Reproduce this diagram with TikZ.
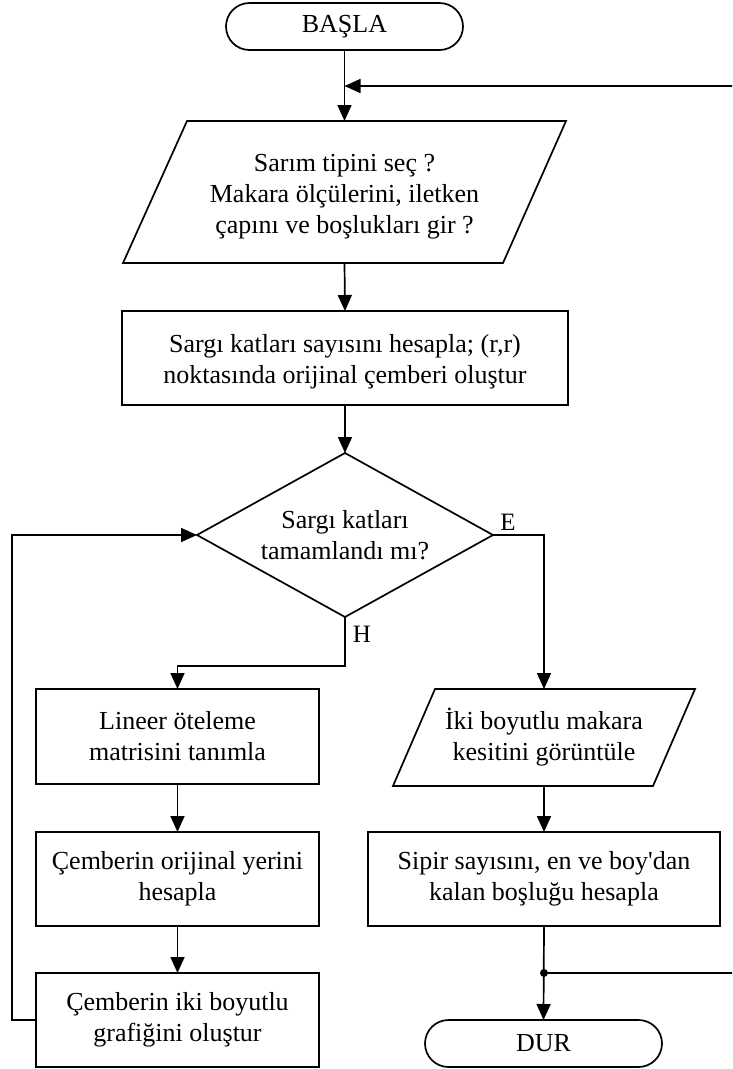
\documentclass[tikz,border=0pt]{standalone}
\usepackage{fontspec}
\setmainfont{Liberation Serif}
\usetikzlibrary{arrows.meta,calc}
\newcommand{\topstrut}{\rule{0pt}{26pt}}
\begin{document}
\begin{tikzpicture}[x=1pt,y=-1pt,
  font=\fontsize{26}{31}\selectfont,
  line width=1.7pt,
  every node/.style={inner sep=0pt, outer sep=0pt, align=center},
  term/.style={draw, rounded corners=23.5pt, minimum width=237pt, minimum height=47pt},
  procbox/.style={draw, minimum height=94pt},
  iobox/.style={minimum height=#1},
  conn/.style={-{Triangle[length=16pt,width=14pt]}},
  lbl/.style={font=\fontsize{25}{25}\selectfont}
]
\useasboundingbox (0,0) rectangle (732,1069);
\clip (0,0) rectangle (732,1069);

% nodes
\node[term] (start) at (344.5,26.5) {BAŞLA};
\node[iobox=142pt, minimum width=443pt] (in1) at (344.5,192) {\topstrut Sarım tipini seç ?\\Makara ölçülerini, iletken\\çapını ve boşlukları gir ?};
\node[procbox, minimum width=446pt] (proc1) at (345,358) {\topstrut Sargı katları sayısını hesapla; (r,r)\\noktasında orijinal çemberi oluştur};
\node[minimum width=296pt, minimum height=164pt] (dec) at (345,535) {Sargı katları\\tamamlandı mı?};
\node[procbox, minimum width=283pt, minimum height=95pt] (pl1) at (177.5,736.5) {Lineer öteleme\\matrisini tanımla};
\node[procbox, minimum width=283pt] (pl2) at (177.5,879) {Çemberin orijinal yerini\\hesapla};
\node[procbox, minimum width=283pt] (pl3) at (177.5,1020) {Çemberin iki boyutlu\\grafiğini oluştur};
\node[iobox=97pt, minimum width=302pt] (in2) at (544,737.5) {İki boyutlu makara\\kesitini görüntüle};
\node[procbox, minimum width=352pt] (pr) at (544,879) {Sipir sayısını, en ve boy\textquotesingle dan\\kalan boşluğu hesapla};
\node[term] (stop) at (543.5,1043.5) {DUR};
\node[lbl] (labE) at (508,522) {E};
\node[lbl] (labH) at (362,634) {H};

% shapes drawn around invisible nodes
\draw ($(in1.north west)+(64,0)$) -- (in1.north east) -- ($(in1.south east)+(-63,0)$) -- (in1.south west) -- cycle;
\draw ($(in2.north west)+(42,0)$) -- (in2.north east) -- ($(in2.south east)+(-42,0)$) -- (in2.south west) -- cycle;
\draw (dec.north) -- (dec.east) -- (dec.south) -- (dec.west) -- cycle;

% junction points
\coordinate (j1) at (344.5,86);
\coordinate (j2) at (544,973);

% connectors
\draw[conn] (start.south) -- (in1.north);
\draw[conn] (in1.south) -- (proc1.north);
\draw[conn] (proc1.south) -- (dec.north);
\draw[conn] (dec.east) -| (in2.north);
\draw[conn] (dec.south) -- ++(0,49) -| (pl1.north);
\draw[conn] (pl1.south) -- (pl2.north);
\draw[conn] (pl2.south) -- (pl3.north);
\draw[conn] (pl3.west) -- ++(-24,0) |- (dec.west);
\draw[conn] (in2.south) -- (pr.north);
\draw[conn] (pr.south) -- (stop.north);
\draw[conn] (j2) -- (740,973) -- (740,86) -- (j1);
\fill (j2) circle (4pt);
\end{tikzpicture}
\end{document}
